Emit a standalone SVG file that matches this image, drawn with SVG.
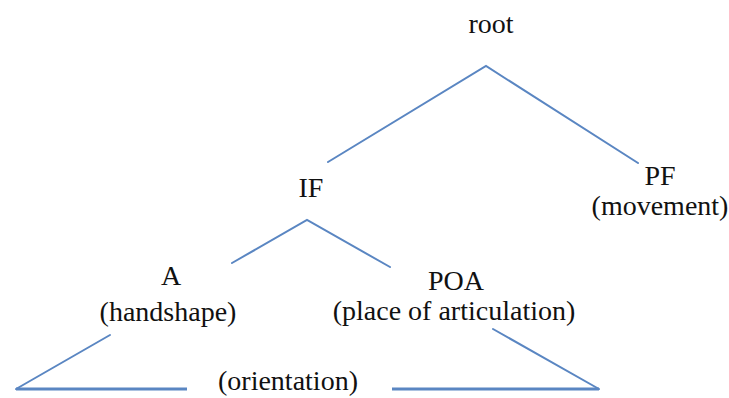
<svg xmlns="http://www.w3.org/2000/svg" width="729" height="398" viewBox="0 0 729 398">
  <style>
    .lbl { font-family: "Liberation Serif", "Times New Roman", serif; font-size: 28px; fill: #111; text-anchor: middle; }
    .edge { stroke: #5a86c2; stroke-width: 2; fill: none; stroke-linecap: round; }
    .base { stroke: #5a86c2; stroke-width: 3; fill: none; }
  </style>
  <rect width="729" height="398" fill="#ffffff"/>

  <!-- tree branches -->
  <g id="connectors">
    <polyline class="edge" points="328,162 486,66 638,163"/>
    <polyline class="edge" points="232,263 307,220 390,267"/>
    <line class="edge" x1="110" y1="335" x2="16" y2="389"/>
    <line class="edge" x1="493" y1="329" x2="599" y2="389"/>
    <line class="base" x1="16" y1="389" x2="187" y2="389"/>
    <line class="base" x1="392" y1="389" x2="599" y2="389"/>
  </g>

  <g id="root">
    <text class="lbl" x="491" y="33">root</text>
  </g>
  <g id="if">
    <text class="lbl" x="311" y="197">IF</text>
  </g>
  <g id="pf">
    <text class="lbl" x="660" y="185">PF</text>
    <text class="lbl" x="660" y="215">(movement)</text>
  </g>
  <g id="a">
    <text class="lbl" x="171" y="285">A</text>
    <text class="lbl" x="168" y="321">(handshape)</text>
  </g>
  <g id="poa">
    <text class="lbl" x="456" y="290">POA</text>
    <text class="lbl" x="454" y="320">(place of articulation)</text>
  </g>
  <g id="orientation">
    <text class="lbl" x="288" y="390">(orientation)</text>
  </g>
</svg>
